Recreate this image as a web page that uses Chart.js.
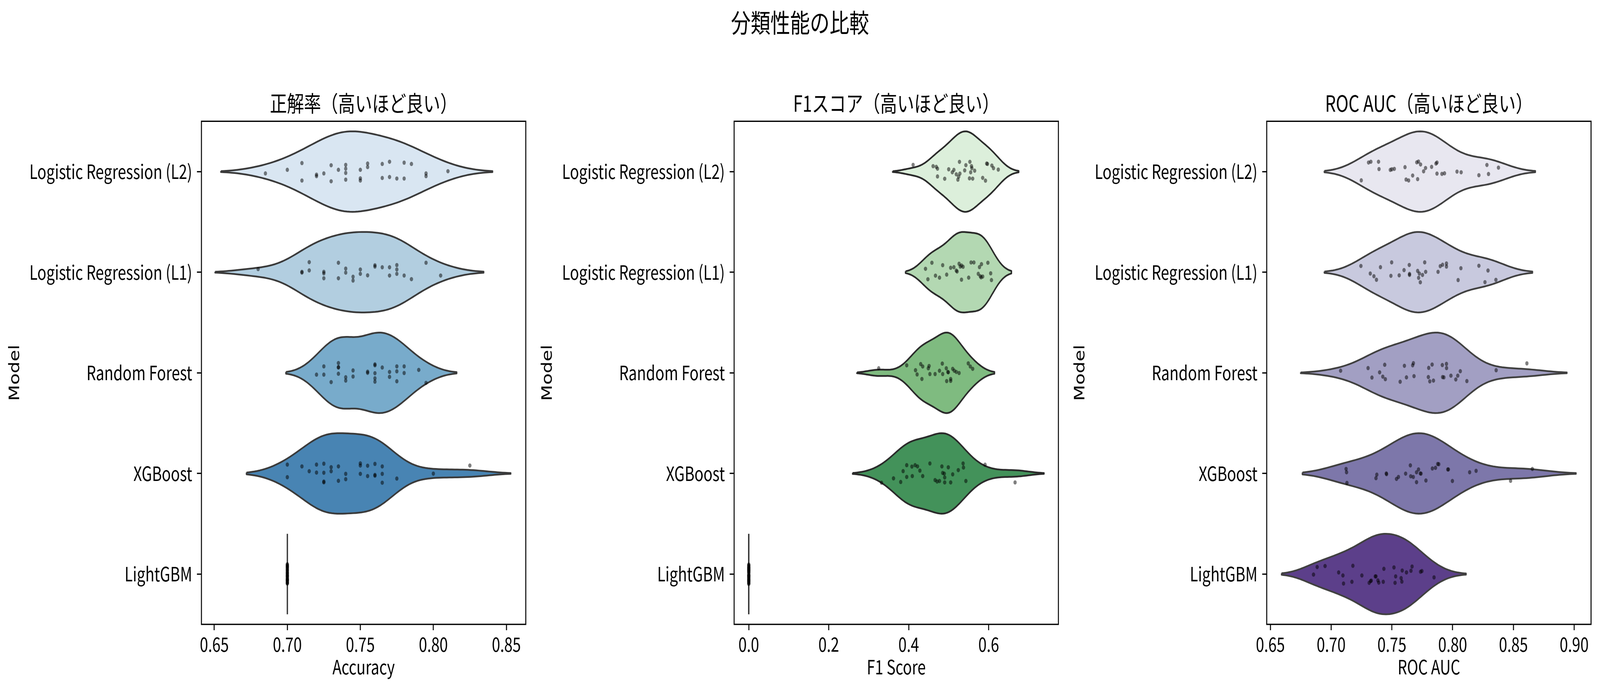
<!DOCTYPE html>
<html>
<head>
<meta charset="utf-8">
<script src="https://cdn.jsdelivr.net/npm/chart.js@4.4.1/dist/chart.umd.min.js"></script>
<style>
  html, body { margin: 0; padding: 0; background: #fff; overflow: hidden; }
  #wrap { position: relative; width: 5353px; height: 1766px; overflow: hidden; transform-origin: 0 0; background: #fff; }
  #suptitle { position: absolute; left: 0; top: 14px; width: 5353px; text-align: center;
              font-family: 'Noto Sans CJK JP', sans-serif; font-size: 66px; line-height: 80px; color: #000; }
  canvas { position: absolute; top: 0; }
</style>
</head>
<body>
<div id="wrap">
  <div id="suptitle">分類性能の比較</div>
  <canvas id="c0" width="1782" height="1766" style="left:0px"></canvas>
  <canvas id="c1" width="1782" height="1766" style="left:1782px"></canvas>
  <canvas id="c2" width="1782" height="1766" style="left:3564px"></canvas>
</div>
<script>
// ---- data ----
const models = ['Logistic Regression (L2)', 'Logistic Regression (L1)', 'Random Forest', 'XGBoost', 'LightGBM'];

// Accuracy
const accL2 = [0.685,0.700,0.710,0.710,0.720,0.720,0.725,0.730,0.730,0.735,0.740,0.740,0.740,0.740,0.750,0.750,0.750,0.755,0.755,0.765,0.765,0.770,0.770,0.775,0.780,0.780,0.785,0.795,0.795,0.810];
const accL2Jit = [0.018,-0.018,-0.085,0.089,0.045,0.030,0.018,-0.063,0.096,-0.018,-0.067,-0.029,0.013,0.080,-0.018,0.067,0.089,-0.080,-0.045,-0.076,0.063,-0.098,0.054,0.069,-0.089,0.069,-0.076,0.018,0.045,-0.004];
const accL1 = [0.680,0.710,0.710,0.715,0.715,0.725,0.725,0.725,0.735,0.735,0.740,0.740,0.745,0.745,0.750,0.750,0.755,0.760,0.760,0.765,0.770,0.770,0.775,0.775,0.775,0.780,0.785,0.795,0.805];
const accL1Jit = [-0.031,-0.004,0.004,-0.100,-0.018,-0.004,0.011,0.060,-0.094,0.060,-0.036,0.004,0.045,0.083,-0.027,0.016,0.031,-0.069,-0.056,-0.049,-0.049,0.033,-0.071,-0.027,0.016,0.033,0.069,-0.094,0.033];
const accRF = [0.720,0.725,0.725,0.730,0.735,0.735,0.735,0.735,0.740,0.740,0.745,0.745,0.755,0.755,0.760,0.760,0.760,0.760,0.760,0.765,0.770,0.770,0.775,0.775,0.775,0.780,0.780,0.790,0.795];
const accRFJit = [0.018,-0.064,0.018,0.092,-0.097,-0.057,-0.053,0.009,0.044,0.077,-0.024,0.037,-0.011,0.000,-0.084,-0.075,0.004,0.055,0.088,-0.053,-0.009,0.040,-0.064,-0.015,0.084,-0.064,0.002,-0.029,0.100];
const accXGB = [0.700,0.700,0.710,0.715,0.720,0.720,0.725,0.725,0.725,0.725,0.730,0.730,0.735,0.735,0.740,0.740,0.750,0.750,0.750,0.755,0.755,0.760,0.760,0.760,0.765,0.765,0.765,0.775,0.800,0.825];
const accXGBJit = [-0.088,0.037,-0.070,-0.022,-0.088,-0.009,-0.097,-0.007,0.081,0.088,-0.062,-0.022,-0.070,0.073,0.004,0.057,-0.100,-0.079,0.004,-0.077,0.026,-0.095,0.015,0.022,-0.070,0.004,0.092,0.051,0.002,-0.079];
const accLGB = [0.70,0.70,0.70,0.70,0.70,0.70,0.70,0.70,0.70,0.70,0.70,0.70,0.70,0.70,0.70,0.70,0.70,0.70,0.70,0.70,0.70,0.70,0.70,0.70,0.70,0.70,0.70,0.70,0.70,0.70];
const accLGBJit = [0.031,-0.072,0.088,-0.015,0.054,-0.093,0.007,0.066,-0.041,0.019,-0.058,0.095,-0.026,0.042,-0.084,0.073,-0.004,0.012,-0.066,0.081,-0.035,0.058,-0.098,0.024,-0.011,0.047,-0.079,0.063,-0.049,0.090];

// F1 score
const f1L2 = [0.411,0.461,0.469,0.472,0.472,0.490,0.500,0.509,0.513,0.519,0.523,0.525,0.527,0.528,0.540,0.543,0.552,0.553,0.555,0.557,0.558,0.560,0.565,0.585,0.592,0.595,0.597,0.608,0.612,0.624];
const f1L2Jit = [-0.067,-0.054,-0.047,-0.029,0.048,0.071,-0.023,0.007,-0.017,0.027,0.080,0.050,-0.097,0.020,-0.012,-0.064,0.067,-0.097,0.007,-0.054,-0.034,0.070,-0.009,0.062,0.090,-0.080,-0.076,-0.060,-0.034,-0.020];
const f1L1 = [0.442,0.448,0.458,0.467,0.477,0.485,0.495,0.505,0.513,0.519,0.521,0.526,0.529,0.532,0.532,0.536,0.550,0.556,0.563,0.574,0.577,0.579,0.581,0.582,0.585,0.598,0.605,0.607];
const f1L1Jit = [-0.034,0.070,-0.094,0.034,0.054,-0.070,0.024,-0.044,-0.050,-0.016,-0.007,-0.084,-0.056,-0.067,0.074,-0.054,0.054,-0.097,-0.097,0.016,-0.051,0.040,0.051,-0.080,0.043,-0.094,0.011,0.078];
const f1RF = [0.325,0.395,0.417,0.421,0.430,0.433,0.435,0.449,0.451,0.453,0.466,0.477,0.484,0.485,0.494,0.495,0.498,0.499,0.505,0.505,0.510,0.514,0.519,0.526,0.549,0.554,0.560];
const f1RFJit = [-0.045,-0.075,-0.026,0.016,-0.087,0.061,-0.063,-0.045,-0.068,0.012,0.012,-0.021,-0.092,0.012,-0.045,0.082,-0.009,-0.005,0.061,0.080,-0.040,-0.021,-0.009,0.002,-0.094,-0.063,-0.040];
const f1XGB = [0.332,0.362,0.380,0.386,0.395,0.395,0.408,0.409,0.416,0.422,0.428,0.435,0.453,0.466,0.471,0.477,0.483,0.485,0.489,0.490,0.490,0.499,0.505,0.510,0.524,0.536,0.537,0.543,0.591,0.666];
const f1XGBJit = [0.092,0.049,0.085,-0.023,-0.082,0.035,-0.068,0.026,-0.082,-0.070,-0.028,0.026,-0.099,0.066,0.080,0.075,-0.070,-0.005,0.002,0.040,0.089,-0.061,0.089,0.009,-0.033,-0.099,-0.059,0.075,-0.087,0.089];
const f1LGB = [0.0,0.0,0.0,0.0,0.0,0.0,0.0,0.0,0.0,0.0,0.0,0.0,0.0,0.0,0.0,0.0,0.0,0.0,0.0,0.0,0.0,0.0,0.0,0.0,0.0,0.0,0.0,0.0,0.0,0.0];
const f1LGBJit = [-0.042,0.067,-0.088,0.021,0.093,-0.017,0.049,-0.071,0.006,0.078,-0.055,0.034,-0.095,0.012,0.060,-0.030,0.086,-0.064,0.027,-0.008,0.071,-0.046,0.099,-0.022,0.040,-0.081,0.015,-0.037,0.055,-0.060];

// ROC AUC
const rocL2 = [0.7248,0.7308,0.7327,0.7390,0.7394,0.7487,0.7500,0.7520,0.7608,0.7617,0.7638,0.7671,0.7705,0.7719,0.7712,0.7736,0.7761,0.7777,0.7827,0.7863,0.7871,0.7871,0.7912,0.7933,0.8036,0.8070,0.8216,0.8282,0.8295,0.8377];
const rocL2Jit = [0.087,-0.090,-0.098,-0.098,-0.025,-0.017,-0.023,-0.027,-0.044,0.079,0.088,0.039,-0.092,-0.100,0.075,-0.071,-0.003,-0.036,-0.047,-0.080,-0.090,0.020,0.023,0.017,0.000,0.007,0.036,-0.066,0.024,-0.039];
const rocL1 = [0.7245,0.7322,0.7352,0.7373,0.7406,0.7492,0.7498,0.7560,0.7600,0.7643,0.7645,0.7645,0.7712,0.7720,0.7726,0.7734,0.7752,0.7770,0.7778,0.7880,0.7898,0.7917,0.7949,0.7949,0.8045,0.8068,0.8216,0.8266,0.8291,0.8356];
const rocL1Jit = [-0.062,0.013,0.040,0.075,-0.050,0.036,-0.098,0.031,-0.021,-0.072,0.017,0.027,-0.013,0.056,0.013,0.100,0.027,-0.098,-0.004,-0.004,-0.060,-0.074,-0.087,-0.056,0.078,-0.040,-0.064,0.099,-0.017,0.076];
const rocRF = [0.7078,0.7304,0.7336,0.7399,0.7425,0.7441,0.7446,0.7568,0.7603,0.7620,0.7671,0.7677,0.7682,0.7800,0.7803,0.7812,0.7831,0.7842,0.7915,0.7917,0.7928,0.7949,0.7950,0.7986,0.8026,0.8042,0.8063,0.8117,0.8358,0.8611];
const rocRFJit = [-0.021,-0.047,0.047,-0.005,0.038,-0.080,0.063,0.089,-0.070,0.045,-0.075,-0.096,0.033,0.042,-0.049,0.085,-0.082,0.077,-0.077,0.042,0.045,-0.089,-0.047,0.028,0.066,0.028,-0.016,0.082,-0.026,-0.094];
const rocXGB = [0.7123,0.7127,0.7130,0.7369,0.7376,0.7454,0.7456,0.7538,0.7554,0.7613,0.7652,0.7655,0.7676,0.7703,0.7703,0.7719,0.7734,0.7740,0.7780,0.7833,0.7859,0.7877,0.7886,0.7960,0.7965,0.7998,0.8140,0.8193,0.8477,0.8656];
const rocXGBJit = [-0.045,-0.012,0.094,0.047,0.012,0.000,0.007,0.054,0.035,0.002,-0.080,0.028,0.035,-0.012,0.087,-0.040,0.000,0.002,0.070,-0.049,-0.056,-0.094,-0.092,-0.040,-0.040,0.075,-0.012,-0.026,0.073,-0.045];
const rocLGB = [0.6855,0.6885,0.6950,0.7062,0.7097,0.7102,0.7171,0.7179,0.7253,0.7313,0.7325,0.7330,0.7363,0.7369,0.7385,0.7392,0.7429,0.7434,0.7517,0.7526,0.7531,0.7576,0.7582,0.7585,0.7620,0.7657,0.7666,0.7736,0.7747,0.7847];
const rocLGBJit = [0.005,-0.070,-0.080,-0.016,0.014,0.094,0.077,-0.082,0.014,0.087,0.070,0.065,0.023,0.023,0.063,0.085,0.077,-0.052,-0.066,0.087,0.023,0.040,0.075,-0.035,-0.016,-0.033,-0.075,-0.023,-0.030,0.033];

// axes
const accTicks = [0.65, 0.70, 0.75, 0.80, 0.85];
const accTickLabels = ['0.65', '0.70', '0.75', '0.80', '0.85'];
const f1Ticks = [0.0, 0.2, 0.4, 0.6];
const f1TickLabels = ['0.0', '0.2', '0.4', '0.6'];
const rocTicks = [0.65, 0.70, 0.75, 0.80, 0.85, 0.90];
const rocTickLabels = ['0.65', '0.70', '0.75', '0.80', '0.85', '0.90'];

// colours
const accColors = ['#d9e6f2', '#b2cee0', '#78abcb', '#4884b3', '#2f6ea8'];
const f1Colors = ['#dcefdb', '#b3d8b2', '#7fbb80', '#43925a', '#2b7a43'];
const rocColors = ['#e8e7f0', '#c8c9de', '#a29fc3', '#7d77aa', '#5c3f8a'];

const JP = "'Noto Sans CJK JP', sans-serif";

// the window may be narrower than the figure: squeeze the figure to the window width
const fitX = Math.min(1, window.innerWidth / 5353);
const fitY = Math.min(1, window.innerHeight / 1766);
document.getElementById('wrap').style.transform = 'scale(' + fitX + ',' + fitY + ')';

// gaussian KDE, scott bandwidth, cut = 2 (as seaborn)
function kde(vals) {
  const n = vals.length;
  const mean = vals.reduce((a, b) => a + b, 0) / n;
  const sd = Math.sqrt(vals.reduce((a, v) => a + (v - mean) * (v - mean), 0) / (n - 1));
  const bw = sd * Math.pow(n, -0.2);
  const lo = Math.min(...vals) - 2 * bw, hi = Math.max(...vals) + 2 * bw;
  const grid = [], dens = [];
  for (let k = 0; k < 100; k++) {
    const g = lo + (hi - lo) * k / 99;
    let s = 0;
    for (const v of vals) s += Math.exp(-0.5 * ((g - v) / bw) ** 2);
    grid.push(g);
    dens.push(s);
  }
  return { grid, dens };
}

function violinSets(vals, jit, idx, color, line) {
  const out = [];
  const lo = Math.min(...vals), hi = Math.max(...vals);
  if (hi - lo < 1e-9) {
    out.push({ data: [{ x: lo, y: idx - 0.4 }, { x: lo, y: idx + 0.4 }], showLine: true, fill: false,
               borderColor: line, borderWidth: 4.5, pointRadius: 0, order: 2 });
  } else {
    const { grid, dens } = kde(vals);
    const m = Math.max(...dens);
    const top = grid.map((g, k) => ({ x: g, y: idx - 0.4 * dens[k] / m }));
    const bot = grid.map((g, k) => ({ x: g, y: idx + 0.4 * dens[k] / m })).reverse();
    out.push({ data: top.concat(bot, [top[0]]), showLine: true, fill: 'shape', tension: 0,
               backgroundColor: color, borderColor: line, borderWidth: 4.5, borderJoinStyle: 'round',
               pointRadius: 0, order: 2 });
  }
  out.push({ data: vals.map((v, k) => ({ x: v, y: idx + jit[k] })), showLine: false,
             pointRadius: 5.5, pointBackgroundColor: 'rgba(0,0,0,0.5)', pointBorderWidth: 0, order: 1 });
  return out;
}

const frame = {
  id: 'frame',
  afterDatasetsDraw(chart) {
    const { ctx, chartArea: a } = chart;
    ctx.save();
    ctx.strokeStyle = '#000';
    ctx.lineWidth = 3.3;
    ctx.strokeRect(a.left, a.top, a.right - a.left, a.bottom - a.top);
    ctx.restore();
  }
};

function makePanel(id, title, xTitle, series, jits, colors, line, xmin, xmax, ticks, tickLabels) {
  let datasets = [];
  series.forEach((vals, i) => { datasets = datasets.concat(violinSets(vals, jits[i], i, colors[i], line)); });
  new Chart(document.getElementById(id), {
    type: 'scatter',
    data: { datasets },
    plugins: [frame],
    options: {
      responsive: false,
      devicePixelRatio: 1,
      animation: false,
      events: [],
      layout: { padding: { left: 0, right: 23, top: 0, bottom: 0 } },
      plugins: {
        legend: { display: false },
        tooltip: { enabled: false },
        title: {
          display: true, text: title, fullSize: false, color: '#000',
          font: { family: JP, size: 57, weight: 'normal', lineHeight: 1.2 },
          padding: { top: 230, bottom: 12 }
        }
      },
      scales: {
        x: {
          type: 'linear', min: xmin, max: xmax,
          afterBuildTicks: (s) => { s.ticks = ticks.map(v => ({ value: v })); },
          afterFit: (s) => { s.height = 168; },
          grid: { drawOnChartArea: false, drawTicks: true, tickLength: 15, tickWidth: 3.3, color: '#000', tickColor: '#000' },
          border: { display: false },
          ticks: { color: '#000', font: { family: JP, size: 50 }, padding: 6, maxRotation: 0, autoSkip: false,
                   callback: (v, i) => tickLabels[i] },
          title: { display: true, text: xTitle, color: '#000', font: { family: JP, size: 50, lineHeight: 1.2 },
                   padding: { top: 0, bottom: 29 } }
        },
        y: {
          type: 'linear', min: -0.5, max: 4.5, reverse: true,
          afterBuildTicks: (s) => { s.ticks = [0, 1, 2, 3, 4].map(v => ({ value: v })); },
          afterFit: (s) => { s.width = 674; },
          grid: { drawOnChartArea: false, drawTicks: true, tickLength: 15, tickWidth: 3.3, color: '#000', tickColor: '#000' },
          border: { display: false },
          ticks: { color: '#000', font: { family: JP, size: 50 }, padding: 16, autoSkip: false,
                   callback: (v) => models[v] },
          title: { display: true, text: 'Model', color: '#000', font: { family: "'DejaVu Sans', sans-serif", size: 48, lineHeight: 1.2 },
                   padding: { top: 23, bottom: 0 } }
        }
      }
    }
  });
}

makePanel('c0', '正解率（高いほど良い）', 'Accuracy',
  [accL2, accL1, accRF, accXGB, accLGB], [accL2Jit, accL1Jit, accRFJit, accXGBJit, accLGBJit],
  accColors, '#3a3a3a', 0.6412, 0.8633, accTicks, accTickLabels);
makePanel('c1', 'F1スコア（高いほど良い）', 'F1 Score',
  [f1L2, f1L1, f1RF, f1XGB, f1LGB], [f1L2Jit, f1L1Jit, f1RFJit, f1XGBJit, f1LGBJit],
  f1Colors, '#2a2a2a', -0.0367, 0.7744, f1Ticks, f1TickLabels);
makePanel('c2', 'ROC AUC（高いほど良い）', 'ROC AUC',
  [rocL2, rocL1, rocRF, rocXGB, rocLGB], [rocL2Jit, rocL1Jit, rocRFJit, rocXGBJit, rocLGBJit],
  rocColors, '#404040', 0.6470, 0.9139, rocTicks, rocTickLabels);
</script>
</body>
</html>
